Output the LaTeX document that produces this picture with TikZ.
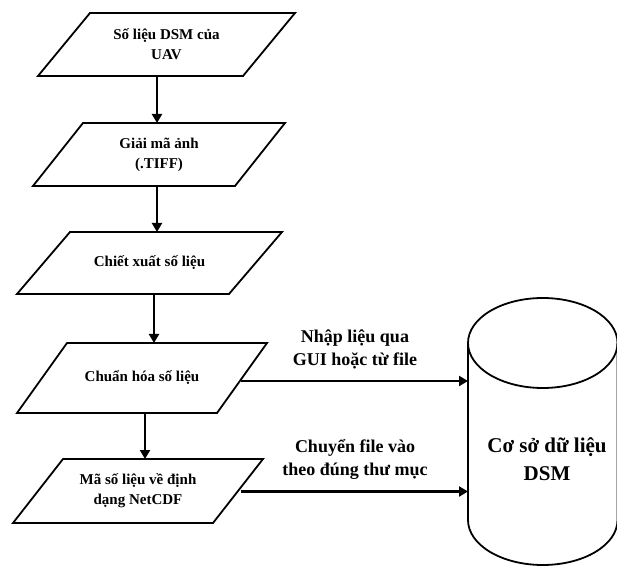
\documentclass[tikz,border=0pt]{standalone}
\usepackage{fontspec}
\setmainfont{Liberation Serif}
\usetikzlibrary{arrows.meta,calc}
\begin{document}
\begin{tikzpicture}[x=1pt,y=1pt,
  box/.style={draw=none,inner sep=0pt,outer sep=0pt,align=center,
    font=\fontsize{15}{20}\selectfont\bfseries},
  pline/.style={line width=1.8pt,line join=miter},
  arr/.style={line width=2.6pt,-{Triangle[length=9pt,width=10pt]}},
  lab/.style={align=center,inner sep=0pt,font=\fontsize{18}{23}\selectfont\bfseries},
  dbtext/.style={align=center,inner sep=0pt,font=\fontsize{21}{28}\selectfont\bfseries}]
\useasboundingbox (0,0) rectangle (617,567);

% boxes (rectangular frames for parallelograms)
\node[box,minimum width=257pt,minimum height=63pt] (b1) at (166.5,522.5) {Số liệu DSM của\\UAV};
\node[box,minimum width=252pt,minimum height=63pt] (b2) at (159,412.5) {Giải mã ảnh\\(.TIFF)};
\node[box,minimum width=265pt,minimum height=62pt] (b3) at (149.5,304) {Chiết xuất số liệu};
\node[box,minimum width=250pt,minimum height=70pt] (b4) at (142,189) {Chuẩn hóa số liệu};
\node[box,minimum width=250pt,minimum height=64pt] (b5) at (138,76) {Mã số liệu về định\\dạng NetCDF};

\draw[pline] (b1.south west) -- ([xshift=52pt]b1.north west) -- (b1.north east) -- ([xshift=-52pt]b1.south east) -- cycle;
\draw[pline] (b2.south west) -- ([xshift=50pt]b2.north west) -- (b2.north east) -- ([xshift=-50pt]b2.south east) -- cycle;
\draw[pline] (b3.south west) -- ([xshift=53pt]b3.north west) -- (b3.north east) -- ([xshift=-53pt]b3.south east) -- cycle;
\draw[pline] (b4.south west) -- ([xshift=50pt]b4.north west) -- (b4.north east) -- ([xshift=-50pt]b4.south east) -- cycle;
\draw[pline] (b5.south west) -- ([xshift=50pt]b5.north west) -- (b5.north east) -- ([xshift=-50pt]b5.south east) -- cycle;

% vertical arrow lines
\coordinate (v1) at (157,0);
\coordinate (v2) at (157,0);
\coordinate (v3) at (154,0);
\coordinate (v4) at (145,0);
\draw[arr] (b1.south -| v1) -- (b2.north -| v1);
\draw[arr] (b2.south -| v2) -- (b3.north -| v2);
\draw[arr] (b3.south -| v3) -- (b4.north -| v3);
\draw[arr] (b4.south -| v4) -- (b5.north -| v4);

% database cylinder
\coordinate (cyl) at (468,224);
\draw[pline] (542.75,224) ellipse [x radius=74.75, y radius=45];
\draw[pline] (cyl) -- (468,47) arc[start angle=180, end angle=360, x radius=74.75, y radius=45] -- (617.5,224);
\node[dbtext] (db) at (547,108) {Cơ sở dữ liệu\\DSM};

% horizontal arrows
\coordinate (s1) at (241,186);
\coordinate (s2) at (241,75.5);
\draw[arr] (s1) -- (s1 -| cyl);
\draw[arr] (s2) -- (s2 -| cyl);
\node[lab] (l1) at (355,217.5) {Nhập liệu qua\\GUI hoặc từ file};
\node[lab] (l2) at (355,107.5) {Chuyển file vào\\theo đúng thư mục};
\end{tikzpicture}
\end{document}
